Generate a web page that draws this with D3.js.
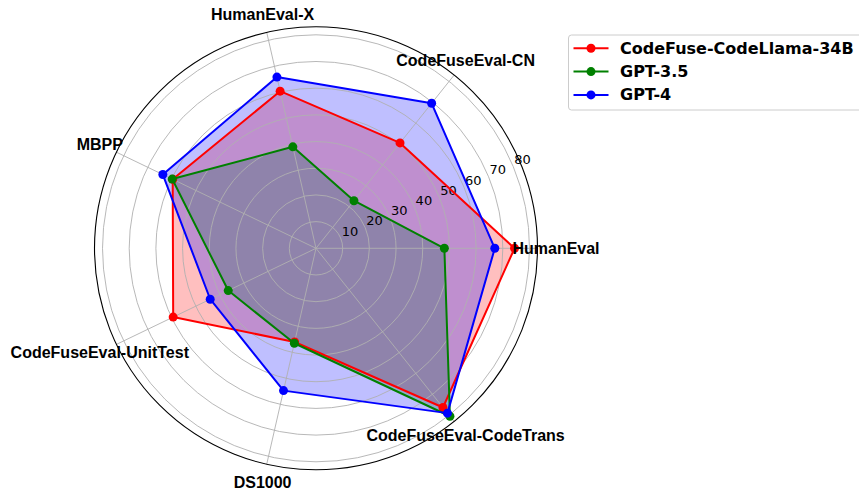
<!DOCTYPE html>
<html>
<head>
<meta charset="utf-8">
<script src="https://cdn.jsdelivr.net/npm/d3@7"></script>
<style>
  body { margin: 0; background: #fff; }
</style>
</head>
<body>
<script>
// Data
// =================================
let categories = ['HumanEval', 'CodeFuseEval-CN', 'HumanEval-X', 'MBPP',
  'CodeFuseEval-UnitTest', 'DS1000', 'CodeFuseEval-CodeTrans'];
let seriesNames = ['CodeFuse-CodeLlama-34B', 'GPT-3.5', 'GPT-4'];
let codefuseValues = [74.4, 50.5, 60.4, 59.6, 59.4, 36.0, 76.3];
let gpt35Values = [48.1, 22.8, 39.0, 59.8, 36.5, 36.5, 80.5];
let gpt4Values = [67.0, 69.5, 65.8, 63.7, 44.0, 54.7, 79.0];
let radialTicks = [10, 20, 30, 40, 50, 60, 70, 80];

let colors = ['#ff0000', '#008000', '#0000ff'];
let allValues = [codefuseValues, gpt35Values, gpt4Values];

// Set up our chart
//= ================================
let svgWidth = 859;
let svgHeight = 491;
let cx = 316;
let cy = 248.3;
let outerR = 221.5;

let svg = d3.select('body')
  .append('svg')
  .attr('width', svgWidth)
  .attr('height', svgHeight);

let chartGroup = svg.append('g')
  .attr('transform', `translate(${cx}, ${cy})`);

let rScale = d3.scaleLinear()
  .domain([0, 83])
  .range([0, outerR]);

let angleScale = d3.scaleLinear()
  .domain([0, categories.length])
  .range([0, 2 * Math.PI]);

// matplotlib style: theta counter-clockwise from east
function px(i, v) { return rScale(v) * Math.cos(angleScale(i)); }
function py(i, v) { return -rScale(v) * Math.sin(angleScale(i)); }

// Fills first (patches sit below grid)
// =================================
allValues.forEach(function(vals, k) {
  chartGroup.append('polygon')
    .attr('points', vals.map((v, i) => `${px(i, v)},${py(i, v)}`).join(' '))
    .attr('fill', colors[k])
    .attr('fill-opacity', 0.25)
    .attr('stroke', 'none');
});

// Grid
// =================================
chartGroup.append('g')
  .selectAll('circle')
  .data(radialTicks)
  .enter()
  .append('circle')
  .attr('r', d => rScale(d))
  .attr('fill', 'none')
  .attr('stroke', '#b0b0b0')
  .attr('stroke-width', 0.9);

chartGroup.append('g')
  .selectAll('line')
  .data(categories)
  .enter()
  .append('line')
  .attr('x1', 0)
  .attr('y1', 0)
  .attr('x2', (d, i) => outerR * Math.cos(angleScale(i)))
  .attr('y2', (d, i) => -outerR * Math.sin(angleScale(i)))
  .attr('stroke', '#b0b0b0')
  .attr('stroke-width', 0.9);

// radial tick labels at 22.5 degrees
let labelAngle = 22.5 * Math.PI / 180;
chartGroup.append('g')
  .selectAll('text')
  .data(radialTicks)
  .enter()
  .append('text')
  .attr('x', d => rScale(d) * Math.cos(labelAngle) + 1)
  .attr('y', d => -rScale(d) * Math.sin(labelAngle) - 2.5)
  .attr('font-family', 'DejaVu Sans')
  .attr('font-size', '13px')
  .attr('fill', '#000')
  .text(d => d);

// Lines and markers
// =================================
let line = d3.line().curve(d3.curveLinearClosed);
allValues.forEach(function(vals, k) {
  let pts = vals.map((v, i) => [px(i, v), py(i, v)]);
  chartGroup.append('path')
    .attr('d', line(pts))
    .attr('fill', 'none')
    .attr('stroke', colors[k])
    .attr('stroke-width', 2)
    .attr('stroke-linejoin', 'round');
  chartGroup.append('g')
    .selectAll('circle')
    .data(pts)
    .enter()
    .append('circle')
    .attr('cx', d => d[0])
    .attr('cy', d => d[1])
    .attr('r', 4.5)
    .attr('fill', colors[k]);
});

// Category labels
// =================================
chartGroup.append('g')
  .selectAll('text')
  .data(categories)
  .enter()
  .append('text')
  .attr('x', (d, i) => 240 * Math.cos(angleScale(i)))
  .attr('y', (d, i) => -240 * Math.sin(angleScale(i)))
  .attr('text-anchor', 'middle')
  .attr('dominant-baseline', 'central')
  .attr('font-family', 'Liberation Sans, Arial, sans-serif')
  .attr('font-weight', 'bold')
  .attr('font-size', '16px')
  .attr('fill', '#000')
  .text(d => d);

// outer frame on top
chartGroup.append('circle')
  .attr('r', outerR)
  .attr('fill', 'none')
  .attr('stroke', '#000')
  .attr('stroke-width', 1.1);

// Legend
// =================================
let legend = svg.append('g');
legend.append('rect')
  .attr('x', 568.5)
  .attr('y', 35)
  .attr('width', 300)
  .attr('height', 75)
  .attr('rx', 3)
  .attr('fill', '#fff')
  .attr('fill-opacity', 0.8)
  .attr('stroke', '#cccccc')
  .attr('stroke-width', 1);

let legendRows = legend.selectAll('g.row')
  .data(seriesNames)
  .enter()
  .append('g')
  .attr('class', 'row')
  .attr('transform', (d, i) => `translate(0, ${48.3 + i * 23.3})`);

legendRows.append('line')
  .attr('x1', 573.5)
  .attr('x2', 608.5)
  .attr('y1', 0)
  .attr('y2', 0)
  .attr('stroke', (d, i) => colors[i])
  .attr('stroke-width', 2);

legendRows.append('circle')
  .attr('cx', 591)
  .attr('cy', 0)
  .attr('r', 4.5)
  .attr('fill', (d, i) => colors[i]);

legendRows.append('text')
  .attr('x', 620)
  .attr('y', 0)
  .attr('dominant-baseline', 'central')
  .attr('font-family', 'DejaVu Sans')
  .attr('font-weight', 'bold')
  .attr('font-size', '16px')
  .attr('fill', '#000')
  .text(d => d);
</script>
</body>
</html>
